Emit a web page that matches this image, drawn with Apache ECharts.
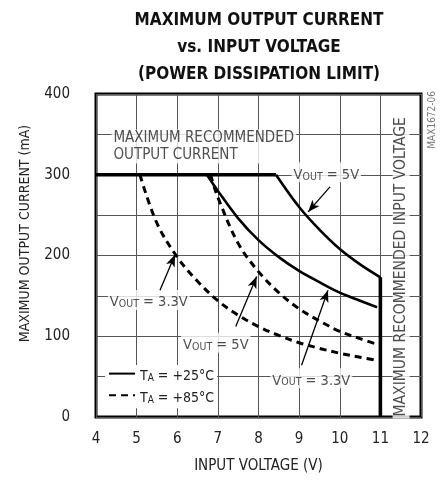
<!DOCTYPE html>
<html lang="en">
<head>
<meta charset="UTF-8">
<title>Maximum Output Current vs. Input Voltage</title>
</head>
<body style="margin:0">
<div id="container" style="width:448px;height:482px"></div>
<script src="https://cdn.jsdelivr.net/npm/echarts@6/dist/echarts.min.js"></script>
<script>
var FONT = '"Liberation Sans Narrow", "DejaVu Sans Condensed", "Roboto Condensed", "Liberation Sans", sans-serif';

// [input voltage (V), output current (mA)]
var limitCurrent = [[4, 300], [8.43, 300]];
var solid33 = [[6.73, 300], [7, 280], [7.5, 246], [8, 219], [8.5, 198], [9, 181], [9.5, 167], [10, 154], [10.5, 144], [10.92, 136]];
var solid5 = [[8.43, 300], [9, 260], [9.5, 232], [10, 208], [10.5, 189], [11, 173]];
var maxVin = [[11, 173], [11, 0]];
var dashed33 = [[5.08, 300], [5.5, 240], [6, 198], [6.5, 168], [7, 144], [7.5, 126], [8, 112], [8.5, 101], [9, 92], [9.5, 85], [10, 79], [10.5, 74], [10.92, 70]];
var dashed5 = [[6.82, 300], [7, 272], [7.5, 215], [8, 180], [8.5, 154], [9, 134], [9.5, 119], [10, 106], [10.5, 97], [10.92, 90]];

var legendNames = ['TA = +25°C', 'TA = +85°C'];

// annotation texts and their anchor points
var notes = [
    { at: [4.38, 335], text: 'MAXIMUM RECOMMENDED\nOUTPUT CURRENT', pos: 'right' },
    { at: [9.67, 303], text: '{m|V}{s|OUT}{m| = 5V}', pos: 'inside' },
    { at: [5.30, 145], text: '{m|V}{s|OUT}{m| = 3.3V}', pos: 'inside' },
    { at: [6.95, 92], text: '{m|V}{s|OUT}{m| = 5V}', pos: 'inside' },
    { at: [9.30, 48], text: '{m|V}{s|OUT}{m| = 3.3V}', pos: 'inside' }
];
// arrows: [tail, tip]
var arrows = [
    [[9.76, 285], [9.22, 254]],
    [[5.575, 157], [5.945, 201]],
    [[7.44, 112], [7.955, 174]],
    [[9.06, 64], [9.71, 157]]
];

var dom = document.getElementById('container');
var myChart = echarts.init(dom);

function subRich(size) {
    return {
        m: { fontSize: size, fontFamily: FONT, color: '#222', lineHeight: 20, verticalAlign: 'bottom' },
        s: { fontSize: size - 4, fontFamily: FONT, color: '#222', lineHeight: 15, verticalAlign: 'bottom' }
    };
}

var noteData = notes.map(function (n) {
    return {
        value: n.at,
        label: { formatter: n.text, position: n.pos, distance: 0 }
    };
});
noteData.push({
    value: [11.51, 186],
    label: { formatter: 'MAXIMUM RECOMMENDED INPUT VOLTAGE', position: 'inside', rotate: 90, fontSize: 15.5 }
});

var curveStyle = { color: '#000', width: 2.6 };
var dashStyle = { color: '#000', width: 3, type: [7, 5] };

function curve(name, data, style) {
    return {
        name: name, type: 'line', data: data, smooth: 0.35,
        showSymbol: false, symbol: 'none', lineStyle: style, itemStyle: { color: '#000' }, z: 3
    };
}

var option = {
    animation: false,
    title: {
        text: 'MAXIMUM OUTPUT CURRENT\nvs. INPUT VOLTAGE\n(POWER DISSIPATION LIMIT)',
        left: 254,
        top: 2,
        textAlign: 'center',
        textStyle: { fontFamily: FONT, fontWeight: 'bold', fontSize: 17, lineHeight: 27, color: '#111' }
    },
    legend: {
        data: legendNames,
        orient: 'vertical',
        left: 105,
        top: 365,
        padding: 3,
        itemGap: 6,
        itemWidth: 26,
        itemHeight: 14,
        backgroundColor: '#fff',
        itemStyle: { opacity: 0 },
        formatter: function (name) {
            return '{m|T}{s|A}{m|' + name.slice(2) + '}';
        },
        textStyle: { rich: subRich(14) }
    },
    grid: { left: 96, right: 27, top: 94, bottom: 65, show: true, borderColor: '#000', borderWidth: 3 },
    xAxis: {
        type: 'value', min: 4, max: 12, interval: 1,
        axisLine: { show: false }, axisTick: { show: false },
        splitLine: { lineStyle: { color: '#555', width: 1 } },
        axisLabel: { fontSize: 15, fontFamily: FONT, color: '#222', margin: 15 },
        name: 'INPUT VOLTAGE (V)', nameLocation: 'middle', nameGap: 42,
        nameTextStyle: { fontSize: 15, fontFamily: FONT, color: '#222' }
    },
    yAxis: {
        type: 'value', min: 0, max: 400, interval: 50,
        axisLine: { show: false }, axisTick: { show: false },
        splitLine: { lineStyle: { color: '#555', width: 1 } },
        axisLabel: {
            fontSize: 15, fontFamily: FONT, color: '#222', margin: 26,
            formatter: function (v) { return v % 100 === 0 ? v : ''; }
        },
        name: 'MAXIMUM OUTPUT CURRENT (mA)', nameLocation: 'middle', nameGap: 64,
        nameTextStyle: { fontSize: 14, fontFamily: FONT, color: '#222', padding: [0, 0, 0, 44] }
    },
    series: [
        curve(legendNames[0], solid33, curveStyle),
        curve(legendNames[0], solid5, curveStyle),
        { name: legendNames[0], type: 'line', data: limitCurrent, showSymbol: false, symbol: 'none', lineStyle: { color: '#000', width: 3.6 }, itemStyle: { color: '#000' }, z: 3 },
        { name: legendNames[0], type: 'line', data: maxVin, showSymbol: false, symbol: 'none', lineStyle: { color: '#000', width: 3.6 }, itemStyle: { color: '#000' }, z: 3 },
        curve(legendNames[1], dashed33, dashStyle),
        curve(legendNames[1], dashed5, dashStyle),
        {
            type: 'line', data: [], silent: true,
            markLine: {
                silent: true, animation: false,
                symbol: ['none', 'arrow'], symbolSize: [7, 12],
                label: { show: false },
                lineStyle: { color: '#000', width: 1.3, type: 'solid' },
                data: arrows.map(function (a) { return [{ coord: a[0] }, { coord: a[1] }]; })
            }
        },
        {
            type: 'scatter', data: noteData, symbolSize: 0, silent: true, z: 4,
            label: {
                show: true, fontSize: 15, fontFamily: FONT, color: '#222', lineHeight: 17,
                backgroundColor: '#fff', padding: [0, 2], rich: subRich(14.5)
            }
        },
        {
            type: 'scatter', data: [[12.29, 368]], symbolSize: 0, silent: true, clip: false,
            label: { show: true, position: 'inside', rotate: 90, formatter: 'MAX1672-06', fontSize: 10, fontFamily: FONT, color: '#555' }
        }
    ]
};

myChart.setOption(option);
</script>
</body>
</html>
